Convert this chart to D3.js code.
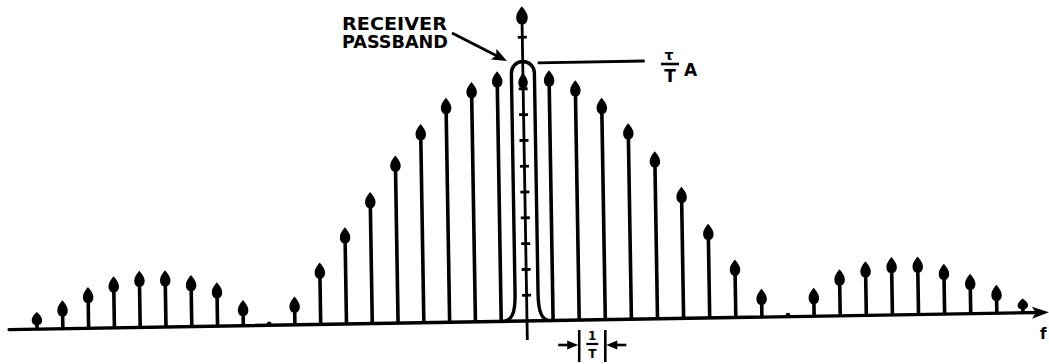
<!DOCTYPE html>
<html>
<head>
<meta charset="utf-8">
<script src="https://cdn.jsdelivr.net/npm/d3@7"></script>
<style>
  html, body { margin: 0; padding: 0; background: #fff; }
  svg { display: block; }
  text { font-family: "DejaVu Sans", "Liberation Sans", sans-serif; font-weight: bold; fill: #000; }
</style>
</head>
<body>
<script>
// Harmonic number of each spectral line (multiples of 1/T)
const harmonics = d3.range(-19, 20);
// Line amplitudes, relative to the central line τ/T·A
const amplitudes = [
  0.066, 0.11, 0.16, 0.20, 0.22, 0.22, 0.20, 0.17, 0.10, 0,
  0.11, 0.24, 0.375, 0.51, 0.65, 0.77, 0.87, 0.93, 0.97,
  1.0,
  0.97, 0.93, 0.86, 0.76, 0.65, 0.51, 0.365, 0.225, 0.11, 0,
  0.11, 0.18, 0.21, 0.225, 0.225, 0.195, 0.155, 0.11, 0.055
];
// Graduations marked on the vertical axis
const axisTicks = [0.1, 0.2, 0.3, 0.4, 0.5, 0.6, 0.7, 0.8, 0.9, 1.1];
const axisTop = 1.22;
// Line spacing marker sits between these two harmonics
const spacingPair = [2, 3];
// Text
const passbandLabel = ["RECEIVER", "PASSBAND"];
const peakLabel = { num: "τ", den: "T", factor: "A" };
const spacingLabel = { num: "1", den: "T" };
const freqLabel = "f";

const W = 1049, H = 364;
const svg = d3.select("body").append("svg").attr("width", W).attr("height", H);

const x = d3.scaleLinear().domain([-19, 0, 19]).range([37, 527, 1023]);
const y = d3.scaleLinear().domain([0, 1]).range([321, 63]);
const x0 = x(0), y0 = y(0);

// The whole figure sits on a slightly rising frequency axis
const g = svg.append("g").attr("transform", `rotate(-0.95, ${x0}, ${y0})`);

// arrowhead pointing up with its tip at (0,0)
function headPath(L, w) {
  const h = w / 2;
  return `M0,0 C${h*0.45},${L*0.18} ${h},${L*0.4} ${h},${L*0.62}
          C${h},${L*0.84} ${h*0.75},${L*0.94} ${h*0.4},${L}
          L${-h*0.4},${L} C${-h*0.75},${L*0.94} ${-h},${L*0.84} ${-h},${L*0.62}
          C${-h},${L*0.4} ${-h*0.45},${L*0.18} 0,0 Z`;
}

// frequency axis
g.append("line")
  .attr("x1", 9).attr("x2", 1038).attr("y1", y0).attr("y2", y0)
  .attr("stroke", "#000").attr("stroke-width", 3.4).attr("stroke-linecap", "round");
g.append("path")
  .attr("d", `M1049,${y0} L1032,${y0 - 6} L1036,${y0} L1032,${y0 + 6} Z`)
  .attr("fill", "#000");

// spectral lines (all except the central one, drawn inside the passband)
const lines = harmonics.map((n, i) => ({ n, a: amplitudes[i] }));
const side = lines.filter(d => d.n !== 0);

const arrows = g.selectAll("g.line").data(side.filter(d => d.a > 0)).join("g")
  .attr("class", "line")
  .attr("transform", d => `translate(${x(d.n)},0)`);
arrows.each(function (d) {
  const sel = d3.select(this);
  const tip = y(d.a);
  const len = y0 - tip;
  const L = Math.min(16, len * 0.75);
  sel.append("line")
    .attr("x1", 0).attr("x2", 0).attr("y1", y0).attr("y2", tip + L * 0.8)
    .attr("stroke", "#000").attr("stroke-width", 3.6);
  sel.append("path")
    .attr("transform", `translate(0,${tip})`)
    .attr("d", headPath(L, 10.5))
    .attr("fill", "#000");
});

// zero-amplitude lines show only as a small bump
g.selectAll("circle.null").data(side.filter(d => d.a === 0)).join("circle")
  .attr("class", "null")
  .attr("cx", d => x(d.n)).attr("cy", y0 - 1.5).attr("r", 2.4).attr("fill", "#000");

// vertical axis with graduations
const axisTipY = y(axisTop);
g.append("line")
  .attr("x1", x0).attr("x2", x0).attr("y1", y0 + 19).attr("y2", axisTipY + 14)
  .attr("stroke", "#000").attr("stroke-width", 2.8);
g.append("path")
  .attr("transform", `translate(${x0},${axisTipY})`)
  .attr("d", headPath(18, 11.5)).attr("fill", "#000");
g.selectAll("line.tick").data(axisTicks).join("line")
  .attr("class", "tick")
  .attr("x1", x0 - 4.5).attr("x2", x0 + 4.5)
  .attr("y1", d => y(d)).attr("y2", d => y(d))
  .attr("stroke", "#000").attr("stroke-width", 2.8);

// central line, just inside the passband outline
const centre = lines.find(d => d.n === 0);
const cTip = y(centre.a) + 10;
g.append("path")
  .attr("transform", `translate(${x0},${cTip})`)
  .attr("d", headPath(15, 9.5)).attr("fill", "#000");

// receiver passband outline
const bandTop = y(centre.a) - 1.5;
const hw = 11.5;
g.append("path")
  .attr("d", `M${x0 - 25},${y0} C${x0 - 15},${y0} ${x0 - hw},${y0 - 8} ${x0 - hw},${y0 - 27}
              L${x0 - hw},${bandTop + hw} A${hw},${hw} 0 0 1 ${x0 + hw},${bandTop + hw}
              L${x0 + hw},${y0 - 27} C${x0 + hw},${y0 - 8} ${x0 + 15},${y0} ${x0 + 24},${y0}`)
  .attr("fill", "none").attr("stroke", "#000").attr("stroke-width", 3.4);

// level of the central line
g.append("line")
  .attr("x1", x0 + 15).attr("x2", x0 + 122)
  .attr("y1", y(centre.a)).attr("y2", y(centre.a))
  .attr("stroke", "#000").attr("stroke-width", 2.8);

// ---- annotations ----
svg.append("text").attr("x", 342).attr("y", 30).attr("font-size", 17.5)
  .attr("textLength", 105).attr("lengthAdjust", "spacingAndGlyphs").text(passbandLabel[0]);
svg.append("text").attr("x", 342).attr("y", 48).attr("font-size", 17.5)
  .attr("textLength", 106).attr("lengthAdjust", "spacingAndGlyphs").text(passbandLabel[1]);

// pointer to the passband
const p0 = [452, 33], p1 = [507, 61];
const ang = Math.atan2(p1[1] - p0[1], p1[0] - p0[0]) * 180 / Math.PI;
svg.append("line")
  .attr("x1", p0[0]).attr("y1", p0[1]).attr("x2", p1[0] - 10 * Math.cos(ang * Math.PI / 180))
  .attr("y2", p1[1] - 10 * Math.sin(ang * Math.PI / 180))
  .attr("stroke", "#000").attr("stroke-width", 2.8);
svg.append("path")
  .attr("transform", `translate(${p1[0]},${p1[1]}) rotate(${ang})`)
  .attr("d", "M0,0 L-15,-6 L-12,0 L-15,6 Z").attr("fill", "#000");

// τ/T A
svg.append("text").attr("x", 669).attr("y", 60).attr("font-size", 14)
  .attr("text-anchor", "middle").text(peakLabel.num);
svg.append("line").attr("x1", 661).attr("x2", 679).attr("y1", 64).attr("y2", 64)
  .attr("stroke", "#000").attr("stroke-width", 2.6);
svg.append("text").attr("x", 670).attr("y", 82).attr("font-size", 17)
  .attr("text-anchor", "middle").text(peakLabel.den);
svg.append("text").attr("x", 684).attr("y", 76).attr("font-size", 17).text(peakLabel.factor);

// line spacing 1/T
const sx0 = x(spacingPair[0]), sx1 = x(spacingPair[1]), sy = 345;
const sp = svg.append("g");
[sx0, sx1].forEach(v => sp.append("line")
  .attr("x1", v).attr("x2", v).attr("y1", 330).attr("y2", 362)
  .attr("stroke", "#000").attr("stroke-width", 2.6));
sp.append("line").attr("x1", sx0 - 21).attr("x2", sx0 - 8).attr("y1", sy).attr("y2", sy)
  .attr("stroke", "#000").attr("stroke-width", 2.6);
sp.append("path").attr("d", `M${sx0 - 1},${sy} L${sx0 - 12},${sy - 4.5} L${sx0 - 12},${sy + 4.5} Z`).attr("fill", "#000");
sp.append("line").attr("x1", sx1 + 8).attr("x2", sx1 + 21).attr("y1", sy).attr("y2", sy)
  .attr("stroke", "#000").attr("stroke-width", 2.6);
sp.append("path").attr("d", `M${sx1 + 1},${sy} L${sx1 + 12},${sy - 4.5} L${sx1 + 12},${sy + 4.5} Z`).attr("fill", "#000");
const smid = (sx0 + sx1) / 2;
sp.append("text").attr("x", smid).attr("y", 340).attr("font-size", 12)
  .attr("text-anchor", "middle").text(spacingLabel.num);
sp.append("line").attr("x1", smid - 6).attr("x2", smid + 6).attr("y1", 344).attr("y2", 344)
  .attr("stroke", "#000").attr("stroke-width", 2.2);
sp.append("text").attr("x", smid).attr("y", 358).attr("font-size", 12)
  .attr("text-anchor", "middle").text(spacingLabel.den);

// frequency axis label
svg.append("text").attr("x", 1040).attr("y", 339).attr("font-size", 15).text(freqLabel);
</script>
</body>
</html>
